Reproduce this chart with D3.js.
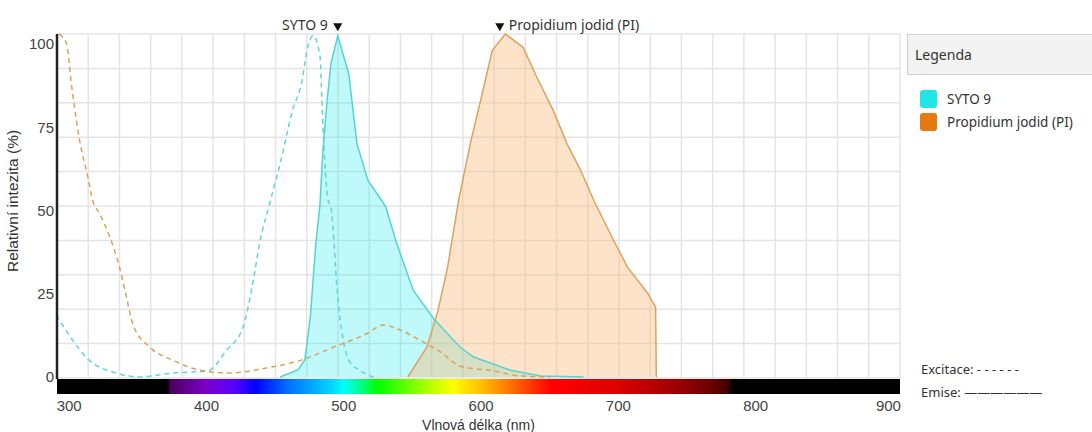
<!DOCTYPE html>
<html>
<head>
<meta charset="utf-8">
<script src="https://cdn.jsdelivr.net/npm/d3@7"></script>
<style>
  body { margin: 0; background: #fff; }
  .tick text { font: 15px "Liberation Sans", Arial, sans-serif; fill: #444; }
  .lbl { font: 14px "Noto Sans", sans-serif; fill: #333; }
</style>
</head>
<body>
<div id="chart-container"></div>
<script>
// [wavelength nm, relative intensity %]
var sytoExcitation = [[291,18.6],[303,11],[315,5],[332,1.5],[352,0],[376,1.2],[401,1.8],[415,8],[427,15],[434,28],
  [439,40],[447,53],[454,64],[463,80],[470,89],[474,99],[478,102.5],[483,96.5],[485,77],[489,53],[491,51],
  [496,24],[504,5],[512,2],[522,0]];
var sytoEmission = [[454,0],[467,2.1],[472,5.1],[476,18],[480,40],[483,51.6],[485,67],[488,82],[491,94],[496,102.5],
  [504,91],[510,70],[518,59],[528,53],[531,51],[539,40],[551,26],[566,17.4],[585,9],[595,6],[622,2],[644,0.3],[675,0]];
var piExcitation = [[293,103],[298.5,100],[302,88],[308,71],[314,60],[317.5,53],[322.6,49],[330,42],[337,33],[341,26],
  [347,15.6],[359,9],[376,5],[396,2],[417,1.2],[444,2.7],[469,5],[493,9],[517,13],[529,15.6],[542,14],[556,11],
  [571,7.5],[585,3.3],[610,1.8],[629,0.3],[651,0]];
var piEmission = [[547,0],[561,9],[569,20],[576,33],[584,53],[593,71],[600,83],[608.5,98],[618,103],[631,99],[641,90],
  [653,80],[663,70],[673,62],[682.5,53],[697,41],[707,33],[722,25],[726,22],[727.5,21],[728,0]];

var dyes = ["SYTO 9", "Propidium jodid (PI)"];
var dyePeaks = [496, 614];
var xTicks = [300, 400, 500, 600, 700, 800, 900];
var yTicks = [0, 25, 50, 75, 100];
// visible spectrum colour stops [nm, colour]
var spectrum = [[372,"#000000"],[374,"#4a0060"],[400,"#7a00c8"],[420,"#5a00ff"],[436,"#0000ff"],[460,"#0070ff"],
  [492,"#00d8ff"],[500,"#00ffff"],[512,"#00ff90"],[525,"#00ff00"],[555,"#90ff00"],[580,"#ffff00"],[600,"#ffc000"],
  [620,"#ff7a00"],[640,"#ff2a00"],[652,"#ff0000"],[700,"#dd0000"],[740,"#a00000"],[770,"#680000"],[781,"#3a0000"],
  [783,"#000000"]];

var margin = {top: 34, right: 192, bottom: 54, left: 57};
var width = 1092 - margin.left - margin.right,
    height = 432 - margin.top - margin.bottom;

var svg = d3.select("#chart-container")
    .append("svg")
      .attr("width", 1092)
      .attr("height", 432)
    .append("g")
      .attr("transform", "translate(" + margin.left + "," + margin.top + ")");

var x = d3.scaleLinear().domain([291.5, 905.5]).range([0, width]);
var y = d3.scaleLinear().domain([0, 103]).range([height - 1, 0]);

// background grid (27 x 10 cells)
svg.append("g").selectAll("line")
    .data(d3.range(0, 28))
  .enter().append("line")
    .attr("x1", function(i) { return i * width / 27; })
    .attr("x2", function(i) { return i * width / 27; })
    .attr("y1", 0).attr("y2", height)
    .style("stroke", "#e4e4e4").style("stroke-width", 1.5);
svg.append("g").selectAll("line")
    .data(d3.range(0, 11))
  .enter().append("line")
    .attr("x1", 0).attr("x2", width)
    .attr("y1", function(i) { return i * height / 10; })
    .attr("y2", function(i) { return i * height / 10; })
    .style("stroke", "#e4e4e4").style("stroke-width", 1.5);

svg.append("clipPath").attr("id", "clip")
  .append("rect").attr("x", 0).attr("y", -2).attr("width", width).attr("height", height + 2);

var plot = svg.append("g").attr("clip-path", "url(#clip)");

var area = d3.area()
    .x(function(d) { return x(d[0]); })
    .y0(y(0))
    .y1(function(d) { return y(d[1]); });
var line = d3.line()
    .x(function(d) { return x(d[0]); })
    .y(function(d) { return y(d[1]); });
var smooth = d3.line()
    .curve(d3.curveMonotoneX)
    .x(function(d) { return x(d[0]); })
    .y(function(d) { return y(d[1]); });

plot.append("path").attr("d", area(sytoEmission))
    .style("fill", "#1de9e9").style("fill-opacity", 0.28);
plot.append("path").attr("d", area(piEmission))
    .style("fill", "#fbb877").style("fill-opacity", 0.4);
plot.append("path").attr("d", line(sytoEmission))
    .style("fill", "none").style("stroke", "#55d3d3").style("stroke-width", 1.5);
plot.append("path").attr("d", line(piEmission))
    .style("fill", "none").style("stroke", "#dca262").style("stroke-width", 1.5);
plot.append("path").attr("d", smooth(sytoExcitation))
    .style("fill", "none").style("stroke", "#5fd6d6").style("stroke-width", 1.5)
    .style("stroke-dasharray", "5,4");
plot.append("path").attr("d", smooth(piExcitation))
    .style("fill", "none").style("stroke", "#d9a15c").style("stroke-width", 1.5)
    .style("stroke-dasharray", "5,4");

// spectrum bar
var grad = svg.append("defs").append("linearGradient")
    .attr("id", "spectrum")
    .attr("x1", 0).attr("x2", 1).attr("y1", 0).attr("y2", 0);
grad.selectAll("stop")
    .data(spectrum)
  .enter().append("stop")
    .attr("offset", function(d) { return x(d[0]) / width; })
    .attr("stop-color", function(d) { return d[1]; });
svg.append("rect")
    .attr("x", 0).attr("y", height + 1)
    .attr("width", width).attr("height", 15)
    .style("fill", "url(#spectrum)");

var xAxis = svg.append("g")
    .attr("transform", "translate(0," + (height + 16) + ")")
    .call(d3.axisBottom(x).tickValues(xTicks).tickSize(0).tickPadding(6));
xAxis.select(".domain").remove();
xAxis.selectAll(".tick:last-child text").attr("text-anchor", "end").attr("dx", 8);

var yAxis = svg.append("g")
    .call(d3.axisLeft(y).tickValues(yTicks).tickSize(0).tickPadding(3));
yAxis.select(".domain").remove();

svg.append("line")
    .attr("x1", 0).attr("x2", 0).attr("y1", 0).attr("y2", height + 1)
    .style("stroke", "#222").style("stroke-width", 2.5);

svg.append("text")
    .attr("transform", "rotate(-90)")
    .attr("x", -167).attr("y", -39)
    .attr("text-anchor", "middle")
    .style("font", "15.5px 'Liberation Sans', Arial, sans-serif").style("fill", "#333")
    .text("Relativní intezita (%)");
svg.append("text")
    .attr("x", width / 2).attr("y", 396)
    .attr("text-anchor", "middle")
    .style("font", "14px 'Liberation Sans', Arial, sans-serif").style("fill", "#333")
    .text("Vlnová délka (nm)");

// peak markers
var tri = d3.symbol().type(d3.symbolTriangle).size(36);
svg.selectAll(".peak")
    .data(dyePeaks)
  .enter().append("path")
    .attr("class", "peak")
    .attr("d", tri)
    .attr("transform", function(d) { return "translate(" + x(d) + ",-8) rotate(180)"; })
    .style("fill", "#111");
svg.append("text").attr("class", "lbl")
    .attr("x", x(dyePeaks[0]) - 10).attr("y", -4)
    .attr("text-anchor", "end").text(dyes[0]);
svg.append("text").attr("class", "lbl")
    .attr("x", x(dyePeaks[1]) + 9).attr("y", -4)
    .text(dyes[1]);

// legend
var lg = d3.select("svg").append("g").attr("transform", "translate(907,34)");
lg.append("rect")
    .attr("x", 0.5).attr("y", 0.5).attr("width", 200).attr("height", 40)
    .style("fill", "#f3f3f3").style("stroke", "#d2d2d2");
lg.append("text").attr("class", "lbl").attr("x", 8).attr("y", 26).text("Legenda");
var swatch = ["#22e6e6", "#e67a12"];
dyes.forEach(function(d, i) {
  lg.append("rect")
      .attr("x", 13).attr("y", 56 + i * 23)
      .attr("width", 17).attr("height", 18).attr("rx", 3)
      .style("fill", swatch[i]);
  lg.append("text").attr("class", "lbl")
      .attr("x", 40).attr("y", 70 + i * 23)
      .style("font-size", "13.5px")
      .text(d);
});
lg.append("text").attr("class", "lbl").attr("x", 14).attr("y", 340)
    .style("font-size", "13px").text("Excitace: - - - - - -");
lg.append("text").attr("class", "lbl").attr("x", 14).attr("y", 363)
    .style("font-size", "13px").text("Emise: ——————");
</script>
</body>
</html>
